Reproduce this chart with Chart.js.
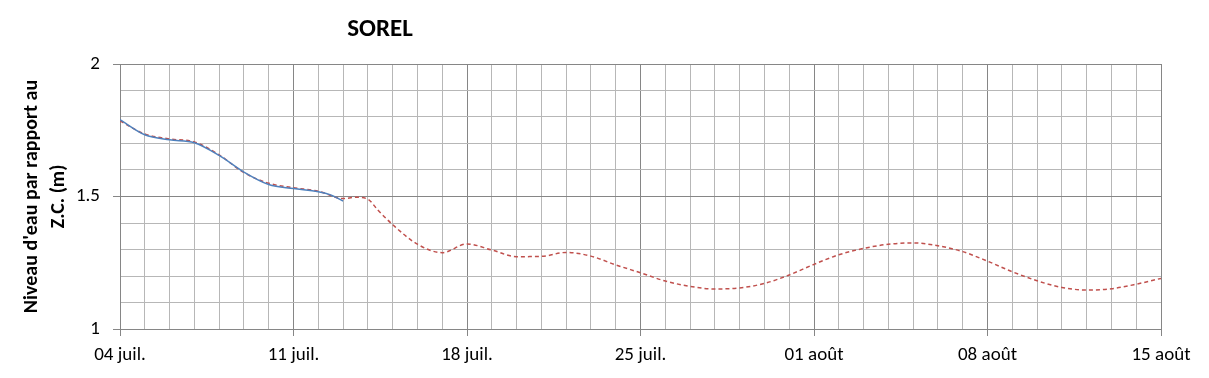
<!DOCTYPE html>
<html>
<head>
<meta charset="utf-8">
<script src="https://cdn.jsdelivr.net/npm/chart.js@4.4.1/dist/chart.umd.min.js"></script>
<style>
  body { margin: 0; background: #fff; }
</style>
</head>
<body>
<canvas id="myChart" width="1209" height="378"></canvas>
<script>
// days after 04 juil.
const predDays = [0, 1, 2, 3, 4, 5, 6, 7, 8, 9, 9.5, 10, 10.4, 11, 12, 13, 14, 15, 16, 17, 18, 19, 20,
  21, 22, 23, 24, 25, 26, 27, 28, 29, 30, 31, 32, 33, 34, 35, 36, 37, 38, 39, 40, 41, 42];
const predicted = [1.785, 1.736, 1.717, 1.706, 1.657, 1.590, 1.550, 1.533, 1.520, 1.492, 1.497, 1.490, 1.449, 1.394,
  1.320, 1.288, 1.321, 1.298, 1.273, 1.274, 1.289, 1.275, 1.242,
  1.212, 1.181, 1.161, 1.151, 1.155, 1.172, 1.204, 1.244, 1.280, 1.304, 1.320, 1.325, 1.314,
  1.292, 1.256, 1.216, 1.182, 1.157, 1.147, 1.152, 1.169, 1.191];

const obsDays = [0, 1, 2, 3, 4, 5, 6, 7, 8, 8.5, 9];
const observed = [1.790, 1.733, 1.714, 1.703, 1.655, 1.592, 1.545, 1.530, 1.518, 1.506, 1.483];

const dateLabels = ["04 juil.", "11 juil.", "18 juil.", "25 juil.", "01 août", "08 août", "15 août"];

const majorColor = "#868686";
const minorColor = "#b7b7b7";

Chart.defaults.font.family = "Carlito, Calibri, Lato, sans-serif";
Chart.defaults.color = "#000";

function isMajorY(v) {
  return Math.abs(v * 2 - Math.round(v * 2)) < 1e-6;
}

const titlePlugin = {
  id: "soreltitle",
  afterDraw(chart) {
    const ctx = chart.ctx;
    ctx.save();
    ctx.font = "bold 25px Carlito, Calibri, Lato, sans-serif";
    ctx.fillStyle = "#000";
    ctx.textAlign = "center";
    ctx.textBaseline = "middle";
    ctx.fillText("SOREL", 380, 30);
    ctx.restore();
  },
};

new Chart(document.getElementById("myChart"), {
  type: "line",
  data: {
    datasets: [
      {
        label: "Observé",
        data: obsDays.map((d, i) => ({ x: d, y: observed[i] })),
        borderColor: "#4f81bd",
        borderWidth: 1.5,
        pointRadius: 0,
        cubicInterpolationMode: "monotone",
        order: 0,
      },
      {
        label: "Prévu",
        data: predDays.map((d, i) => ({ x: d, y: predicted[i] })),
        borderColor: "#c0504d",
        borderWidth: 1.5,
        borderDash: [4, 3],
        pointRadius: 0,
        cubicInterpolationMode: "monotone",
        order: 1,
      },
    ],
  },
  options: {
    responsive: false,
    animation: false,
    layout: { padding: { left: 0, right: 48, top: 64, bottom: 0 } },
    plugins: {
      legend: { display: false },
      tooltip: { enabled: false },
    },
    scales: {
      x: {
        type: "linear",
        min: 0,
        max: 42,
        afterFit: (scale) => { scale.height = 49; },
        ticks: {
          stepSize: 1,
          autoSkip: false,
          maxRotation: 0,
          padding: 8,
          font: { size: 19 },
          callback: (v) => (v % 7 === 0 ? dateLabels[v / 7] : ""),
        },
        grid: {
          color: (ctx) => (ctx.tick && ctx.tick.value % 7 === 0 ? majorColor : minorColor),
          tickColor: (ctx) => (ctx.tick && ctx.tick.value % 7 === 0 ? majorColor : "rgba(0,0,0,0)"),
          tickLength: 7,
          lineWidth: 1,
        },
        border: { color: majorColor },
      },
      y: {
        min: 1,
        max: 2,
        afterFit: (scale) => { scale.width = 120; },
        ticks: {
          stepSize: 0.1,
          autoSkip: false,
          padding: 13,
          font: { size: 19 },
          callback: (v) => (isMajorY(v) ? String(Math.round(v * 10) / 10) : ""),
        },
        grid: {
          color: (ctx) => (ctx.tick && isMajorY(ctx.tick.value) ? majorColor : minorColor),
          tickColor: (ctx) => (ctx.tick && isMajorY(ctx.tick.value) ? majorColor : "rgba(0,0,0,0)"),
          tickLength: 7,
          lineWidth: 1,
        },
        border: { color: majorColor },
        title: {
          display: true,
          text: ["Niveau d'eau par rapport au", "Z.C. (m)"],
          font: { size: 20, weight: "bold", lineHeight: 1.35 },
          padding: { top: 18, bottom: 0 },
        },
      },
    },
  },
  plugins: [titlePlugin],
});
</script>
</body>
</html>
